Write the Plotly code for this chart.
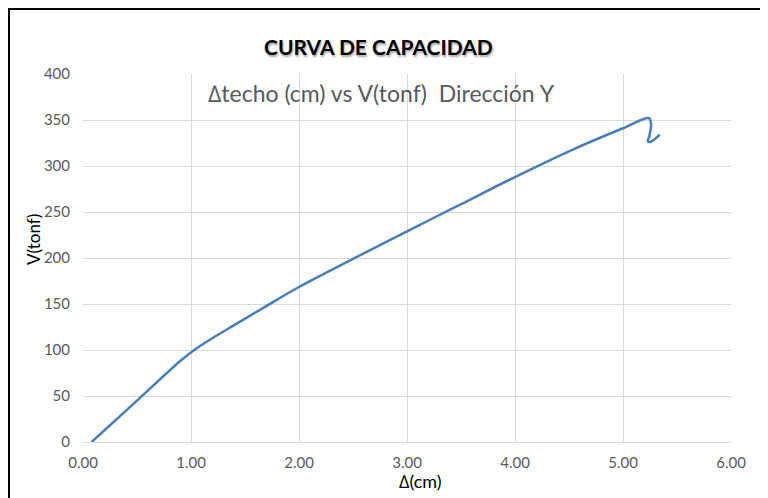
import plotly.graph_objects as go

# Data (Δ in cm, V in tonf)
delta_cm = [0.08, 0.50, 0.90, 1.03, 1.20, 1.40, 1.70, 2.00, 2.50,
            3.00, 3.50, 4.00, 4.50, 5.00, 5.24, 5.26, 5.245, 5.23,
            5.25, 5.34]
v_tonf = [0, 45, 88, 100, 113, 127, 148, 168.5, 199,
          229, 258.5, 288, 316, 341, 352, 345, 333, 327,
          326, 334]

x_ticks = [0, 1, 2, 3, 4, 5, 6]
x_tick_labels = ["0.00", "1.00", "2.00", "3.00", "4.00", "5.00", "6.00"]
y_ticks = [0, 50, 100, 150, 200, 250, 300, 350, 400]

W, H = 768, 498
OFF = 8  # page body margin offset (window px -> figure px)
L, R, T, B = 83 - OFF, W - (731 - OFF), 74 - OFF, H - (442 - OFF)
PW, PH = W - L - R, H - T - B


def px(x):
    # x given in window pixels
    return (x - OFF - L) / PW


def py(y):
    return (H - B - (y - OFF)) / PH


fig = go.Figure()
fig.add_trace(go.Scatter(
    x=delta_cm, y=v_tonf, mode="lines",
    line=dict(color="#4a7ebb", width=2.5, shape="spline", smoothing=0.9),
    hoverinfo="skip", showlegend=False,
))

font_main = "Lato, 'Open Sans', sans-serif"

fig.update_layout(
    width=W, height=H,
    margin=dict(l=L, r=R, t=T, b=B),
    paper_bgcolor="white", plot_bgcolor="white",
    showlegend=False,
    xaxis=dict(
        range=[0, 6], tickvals=x_ticks, ticktext=x_tick_labels,
        showgrid=True, gridcolor="#d9d9d9", gridwidth=1,
        zeroline=False, showline=True, linecolor="#d9d9d9", linewidth=1,
        ticks="outside", ticklen=7, tickcolor="rgba(0,0,0,0)",
        tickfont=dict(family=font_main, size=15, color="#595959"),
        fixedrange=True,
    ),
    yaxis=dict(
        range=[0, 400], tickvals=y_ticks,
        showgrid=True, gridcolor="#d9d9d9", gridwidth=1,
        zeroline=False, showline=False,
        ticks="outside", ticklen=9, tickcolor="rgba(0,0,0,0)",
        tickfont=dict(family=font_main, size=15, color="#595959"),
        fixedrange=True,
    ),
    shapes=[
        dict(type="rect", xref="paper", yref="paper",
             x0=px(8.5), x1=px(800), y0=py(530), y1=py(8.5),
             line=dict(color="black", width=3), fillcolor="rgba(0,0,0,0)",
             layer="above"),
    ],
    annotations=[
        dict(text="<b>CURVA DE CAPACIDAD</b>", xref="paper", yref="paper",
             x=px(378), y=py(46), xanchor="center", yanchor="middle",
             showarrow=False,
             font=dict(family=font_main, size=21, color="black",
                       shadow="1px 2px 2px rgba(0,0,0,0.35)")),
        dict(text="\u2206techo (cm) vs V(tonf)  Dirección Y", xref="paper", yref="paper",
             x=px(381), y=py(93), xanchor="center", yanchor="middle",
             showarrow=False,
             font=dict(family=font_main, size=23, color="#595959")),
        dict(text="V(tonf)", xref="paper", yref="paper",
             x=px(33), y=py(240), xanchor="center", yanchor="middle",
             textangle=-90, showarrow=False,
             font=dict(family=font_main, size=17, color="black")),
        dict(text="\u2206(cm)", xref="paper", yref="paper",
             x=px(420), y=py(481), xanchor="center", yanchor="middle",
             showarrow=False,
             font=dict(family=font_main, size=18, color="black")),
    ],
)

fig.write_html("out.html")
